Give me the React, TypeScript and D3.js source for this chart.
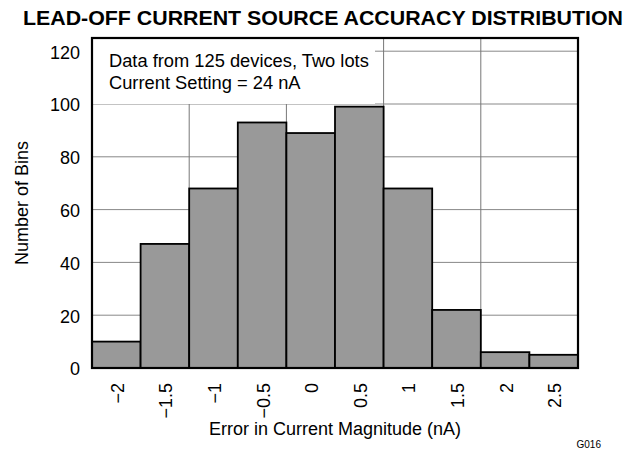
import React from "react";
import { scaleLinear } from "d3";

const width = 637;
const height = 453;
const plot = { left: 92, right: 578, top: 38, bottom: 368 };

// histogram bins (centre of each bin, nA) and counts
const binCenters = [-2, -1.5, -1, -0.5, 0, 0.5, 1, 1.5, 2, 2.5];
const binCounts = [10, 47, 68, 93, 89, 99, 68, 22, 6, 5];
const binLabels = ["\u22122", "\u22121.5", "\u22121", "\u22120.5", "0", "0.5", "1", "1.5", "2", "2.5"];
const yTicks = [0, 20, 40, 60, 80, 100, 120];
const xGrid = [-1.25, -0.25, 0.75, 1.75];
const noteLines = ["Data from 125 devices, Two lots", "Current Setting = 24 nA"];

const font = "'Liberation Sans', Arial, sans-serif";

export default function App() {
  const x = scaleLinear().domain([-2.25, 2.75]).range([plot.left, plot.right]);
  const y = scaleLinear().domain([0, 125]).range([plot.bottom, plot.top]);
  const binW = x(0.5) - x(0);

  return (
    <svg
      width={width}
      height={height}
      style={{ position: "absolute", left: 0, top: 0, background: "#fff" }}
      fontFamily={font}
    >
      <text x={323} y={25} textAnchor="middle" fontSize={20} fontWeight="bold" textLength={600} lengthAdjust="spacingAndGlyphs">
        LEAD-OFF CURRENT SOURCE ACCURACY DISTRIBUTION
      </text>

      {/* grid */}
      {yTicks.filter(t => t > 0).map(t => (
        <line key={"h" + t} x1={plot.left} x2={plot.right} y1={y(t)} y2={y(t)} stroke="#888" strokeWidth={1} />
      ))}
      {xGrid.map(v => (
        <line key={"v" + v} x1={x(v)} x2={x(v)} y1={plot.top} y2={plot.bottom} stroke="#777" strokeWidth={1} />
      ))}

      {/* note box hides grid behind it */}
      <rect x={plot.left} y={plot.top} width={375 - plot.left} height={104 - plot.top} fill="#fff" />
      {noteLines.map((l, i) => (
        <text key={l} x={109} y={67 + i * 21.5} fontSize={18.3}>
          {l}
        </text>
      ))}

      {/* bars */}
      {binCenters.map((c, i) => (
        <rect
          key={c}
          x={x(c) - binW / 2}
          y={y(binCounts[i])}
          width={binW}
          height={y(0) - y(binCounts[i])}
          fill="#999"
          stroke="#000"
          strokeWidth={1.8}
        />
      ))}

      {/* frame */}
      <rect
        x={plot.left}
        y={plot.top}
        width={plot.right - plot.left}
        height={plot.bottom - plot.top}
        fill="none"
        stroke="#000"
        strokeWidth={2.2}
      />

      {/* y ticks */}
      {yTicks.map(t => (
        <text key={"y" + t} x={80} y={y(t) + 1} dy="0.35em" textAnchor="end" fontSize={18}>
          {t}
        </text>
      ))}

      {/* x ticks */}
      {binCenters.map((c, i) => (
        <text
          key={"x" + c}
          transform={`translate(${x(c)},383) rotate(-90)`}
          dy="0.42em"
          textAnchor="end"
          fontSize={18}
        >
          {binLabels[i]}
        </text>
      ))}

      <text x={335} y={435} textAnchor="middle" fontSize={18}>
        Error in Current Magnitude (nA)
      </text>
      <text transform={`translate(28,203) rotate(-90)`} textAnchor="middle" fontSize={18}>
        Number of Bins
      </text>
      <text x={601} y={448} textAnchor="end" fontSize={10}>
        G016
      </text>
    </svg>
  );
}
